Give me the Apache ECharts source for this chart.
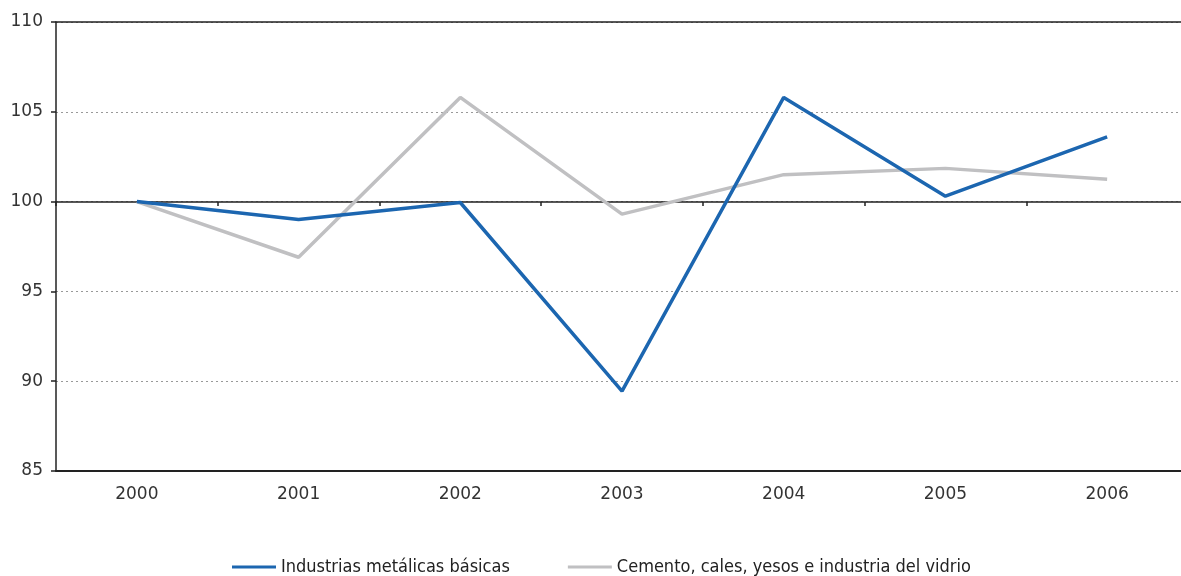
<!DOCTYPE html>
<html><head><meta charset="utf-8">
<script src="https://cdn.jsdelivr.net/npm/echarts@6/dist/echarts.min.js"></script>
<style>html,body{margin:0;padding:0;background:#fff}#c{width:1181px;height:576px}</style>
</head><body><div id="c"></div>
<script>
const categories = ['2000','2001','2002','2003','2004','2005','2006'];
const metalicas = [100, 99.0, 99.95, 89.45, 105.8, 100.3, 103.6];
const cemento = [100, 96.9, 105.8, 99.3, 101.5, 101.85, 101.25];
const seriesNames = ['Industrias metálicas básicas', 'Cemento, cales, yesos e industria del vidrio'];

const chart = echarts.init(document.getElementById('c'));
const labelFont = {color:'#333', fontSize:17, fontFamily:'DejaVu Sans, sans-serif'};
chart.setOption({
  animation:false,
  grid:{left:56, top:22, width:1132, height:449, outerBoundsMode:'none', containLabel:false},
  legend:{
    top:553, left:227, itemWidth:44, itemHeight:3, itemGap:58,
    icon:'rect',
    textStyle:{color:'#222', fontSize:18, fontFamily:'Liberation Sans Narrow, DejaVu Sans Condensed, sans-serif'},
    data: seriesNames
  },
  xAxis:[
    {type:'category', data:categories, position:'bottom', boundaryGap:true,
     axisLine:{lineStyle:{color:'#222', width:2}}, axisTick:{show:false},
     axisLabel:{...labelFont, margin:15}},
    {type:'category', data:categories, position:'bottom', offset:-269, boundaryGap:true,
     axisLine:{lineStyle:{color:'#222', width:1.5}}, axisTick:{show:true, length:4, lineStyle:{color:'#222', width:1.5}},
     axisLabel:{show:false}},
    {type:'category', data:categories, position:'top', boundaryGap:true,
     axisLine:{lineStyle:{color:'#222', width:1.5}}, axisTick:{show:false}, axisLabel:{show:false}}
  ],
  yAxis:{type:'value', min:85, max:110, interval:5,
    axisLine:{show:true, lineStyle:{color:'#222', width:1.5}},
    axisTick:{show:true, length:5, lineStyle:{color:'#222', width:1.5}},
    axisLabel:{...labelFont, margin:13},
    splitLine:{show:true, lineStyle:{color:'#999', type:[2,3], width:1}}
  },
  series:[
    {name:seriesNames[1], type:'line', data:cemento, symbol:'none', z:2,
     lineStyle:{color:'#c0c0c2', width:3.5}, itemStyle:{color:'#c0c0c2'}},
    {name:seriesNames[0], type:'line', data:metalicas, symbol:'none', z:3,
     lineStyle:{color:'#1c66b0', width:3.5}, itemStyle:{color:'#1c66b0'}}
  ]
});
</script></body></html>
